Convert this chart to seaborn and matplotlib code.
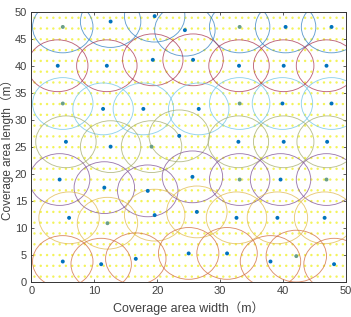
import numpy as np
import pandas as pd
import seaborn as sns
import matplotlib
matplotlib.use("Agg")
import matplotlib.pyplot as plt
from matplotlib.patches import Circle

sns.set_theme(style="white")
plt.rcParams['font.family'] = ['Liberation Sans', 'Noto Sans CJK SC', 'DejaVu Sans']

# Sensor node positions, row index gives circle colour
node_x = [5.0, 12.6, 19.6, 24.4, 33.1, 40.4, 47.7,
          4.2, 12.0, 19.3, 25.7, 33.0, 40.1, 46.9,
          5.0, 11.4, 17.8, 26.6, 33.1, 39.9, 47.7,
          5.5, 12.6, 19.1, 23.5, 32.9, 40.1, 47.0,
          4.5, 11.6, 18.5, 25.6, 33.1, 39.6, 46.9,
          6.0, 12.1, 19.6, 26.3, 32.6, 39.1, 46.6,
          5.0, 11.1, 16.6, 25.0, 31.1, 38.0, 42.1, 48.1]
node_y = [47.3, 48.3, 49.3, 46.7, 47.3, 47.3, 47.3,
          40.1, 40.1, 41.2, 41.2, 40.1, 40.1, 40.1,
          33.1, 32.1, 32.1, 32.1, 33.1, 33.1, 33.1,
          26.0, 25.1, 25.1, 27.1, 26.0, 26.0, 26.0,
          19.0, 17.5, 16.9, 19.5, 19.0, 19.0, 19.0,
          11.9, 10.9, 12.4, 13.0, 11.9, 11.9, 11.9,
          3.8, 3.3, 4.3, 5.3, 5.3, 3.8, 4.8, 3.3]
node_row = [0]*7 + [1]*7 + [2]*7 + [3]*7 + [4]*7 + [5]*7 + [6]*8
node_kind = ['g','b','b','b','g','b','b',
             'b','b','b','b','b','b','b',
             'g','b','b','b','g','b','b',
             'b','b','g','b','b','b','b',
             'b','b','b','b','g','b','g',
             'b','g','b','b','b','b','b',
             'b','b','b','b','b','b','g','b']
row_colors = ['#2f7fc1', '#a8324f', '#6cc3e6', '#a3ab6a', '#7d4f95', '#e0b84a', '#d06a3a']
radius = 4.8

# Yellow grid of monitored points
grid_x = np.arange(0.5, 50, 1.0)
grid_y = np.arange(1, 50, 2.0)
gx, gy = np.meshgrid(grid_x, grid_y)
grid = pd.DataFrame({'x': gx.ravel(), 'y': gy.ravel()})
nodes = pd.DataFrame({'x': node_x, 'y': node_y, 'row': node_row, 'kind': node_kind})

fig = plt.figure(figsize=(3.51, 3.17), dpi=100)
ax = fig.add_axes([0.0892, 0.1104, 0.8966, 0.8506])

sns.scatterplot(data=grid, x='x', y='y', ax=ax, color='#f3f35a', s=3,
                edgecolor='none', legend=False, zorder=1)

for _, r in nodes.iterrows():
    ax.add_patch(Circle((r['x'], r['y']), radius, fill=False,
                        edgecolor=row_colors[int(r['row'])], lw=0.65, alpha=0.75, zorder=2))

blue = nodes[nodes['kind'] == 'b']
green = nodes[nodes['kind'] == 'g']
sns.scatterplot(data=blue, x='x', y='y', ax=ax, color='#0072BD', s=8,
                edgecolor='none', legend=False, zorder=3)
sns.scatterplot(data=green, x='x', y='y', ax=ax, color='#6a9e88', s=8,
                edgecolor='none', legend=False, zorder=3)

ax.set_xlim(0, 50)
ax.set_ylim(0, 50)
ax.set_xticks([0, 10, 20, 30, 40, 50])
ax.set_yticks(list(range(0, 51, 5)))
ax.tick_params(direction='in', length=2.5, width=0.6, colors='#444444',
               labelsize=8, top=True, right=True, bottom=True, left=True,
               labelcolor='#404040', pad=3)
for s in ax.spines.values():
    s.set_color('#333333')
    s.set_linewidth(0.7)
ax.set_xlabel('Coverage area width（m）', fontsize=9, color='#404040', labelpad=4)
ax.set_ylabel('Coverage area length（m）', fontsize=8.5, color='#404040', labelpad=0.5)

fig.savefig('out.png', dpi=100)
